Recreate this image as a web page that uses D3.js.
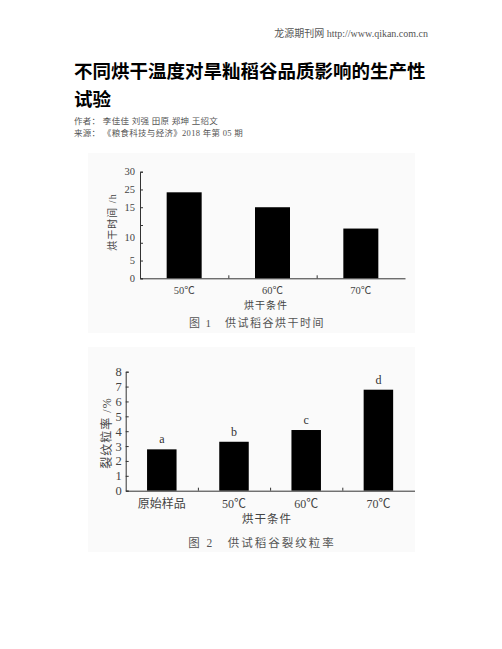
<!DOCTYPE html>
<html>
<head>
<meta charset="utf-8">
<script src="https://cdn.jsdelivr.net/npm/d3@7"></script>
<style>
  body { margin: 0; background: #fff; }
  text { font-family: "Liberation Serif", "Noto Sans CJK SC", serif; }
</style>
</head>
<body>
<div id="page"></div>
<script>
// Figure 1: drying time
var cats1 = ["50℃", "60℃", "70℃"];
var hours1 = [24.2, 20.0, 14.0];
var yTicks1 = [0, 5, 10, 15, 20, 25, 30];
// labels as printed in the source figure
var yLabelText1 = ["0", "5", "10", "15", "25", "30"];
var yLabelAt1 = [0, 5, 11.5, 20, 25, 30];

// Figure 2: crack rate
var cats2 = ["原始样品", "50℃", "60℃", "70℃"];
var crack2 = [2.78, 3.29, 4.08, 6.79];
var letters2 = ["a", "b", "c", "d"];
var yTicks2 = [0, 1, 2, 3, 4, 5, 6, 7, 8];

var W = 502, H = 649;
var svg = d3.select("#page").append("svg")
  .attr("width", W).attr("height", H);

// header
svg.append("text")
  .attr("x", 428).attr("y", 37)
  .attr("text-anchor", "end")
  .style("font-size", "10px").style("fill", "#555")
  .text("龙源期刊网 http://www.qikan.com.cn");

var title = svg.append("g").style("font-weight", "bold").style("fill", "#000");
title.append("text").attr("x", 74).attr("y", 78)
  .style("font-size", "18.5px").style("font-family", "Noto Sans CJK SC")
  .text("不同烘干温度对旱籼稻谷品质影响的生产性");
title.append("text").attr("x", 74).attr("y", 106)
  .style("font-size", "18.5px").style("font-family", "Noto Sans CJK SC")
  .text("试验");

svg.append("text").attr("x", 74).attr("y", 124)
  .style("font-size", "8.5px").style("fill", "#555").style("letter-spacing", "0.3px")
  .text("作者： 李佳佳 刘强 田原 郑坤 王绍文");
svg.append("text").attr("x", 74).attr("y", 136)
  .style("font-size", "8.5px").style("fill", "#555").style("letter-spacing", "0.3px")
  .text("来源： 《粮食科技与经济》2018 年第 05 期");

// faint figure backgrounds
svg.append("rect").attr("x", 88).attr("y", 153).attr("width", 327).attr("height", 180)
  .style("fill", "#fafafa");
svg.append("rect").attr("x", 88).attr("y", 347).attr("width", 327).attr("height", 205)
  .style("fill", "#fafafa");

//---------- Figure 1 ----------
var g1 = svg.append("g");
var x1 = d3.scaleBand().domain(cats1).range([140, 405]);
var y1 = d3.scaleLinear().domain([0, 30]).range([278.3, 171.7]);
var bw1 = 35;

g1.selectAll(".bar1")
  .data(hours1)
  .enter().append("rect")
    .attr("class", "bar1")
    .attr("x", function(d, i) { return x1(cats1[i]) + x1.bandwidth() / 2 - bw1 / 2; })
    .attr("y", function(d) { return y1(d); })
    .attr("width", bw1)
    .attr("height", function(d) { return y1(0) - y1(d); })
    .style("fill", "#000");

// y axis, ticks inward
var ya1 = g1.append("g").attr("transform", "translate(140,0)")
  .call(d3.axisLeft(y1).tickValues(yTicks1).tickSize(-3).tickFormat(""));
ya1.select(".domain").attr("stroke", "#333");
ya1.selectAll(".tick line").attr("stroke", "#333");

g1.selectAll(".ylab1")
  .data(yLabelText1)
  .enter().append("text")
    .attr("class", "ylab1")
    .attr("x", 135)
    .attr("y", function(d, i) { return y1(yLabelAt1[i]); })
    .attr("dy", "0.35em")
    .attr("text-anchor", "end")
    .style("font-size", "10.5px").style("fill", "#444")
    .text(function(d) { return d; });

// x axis
var xl1 = d3.scaleLinear().domain([0, cats1.length]).range(x1.range());
var xa1 = g1.append("g").attr("transform", "translate(0," + y1(0) + ")")
  .call(d3.axisBottom(xl1).tickValues([1, 2]).tickSize(-3).tickFormat("").tickSizeOuter(0));
xa1.select(".domain").attr("stroke", "#333");
xa1.selectAll(".tick line").attr("stroke", "#333");

g1.selectAll(".xlab1")
  .data(cats1)
  .enter().append("text")
    .attr("class", "xlab1")
    .attr("x", function(d) { return x1(d) + x1.bandwidth() / 2; })
    .attr("y", 294)
    .attr("text-anchor", "middle")
    .style("font-size", "10.5px").style("fill", "#444")
    .text(function(d) { return d; });

g1.append("text").attr("x", 266).attr("y", 309)
  .attr("text-anchor", "middle")
  .style("font-size", "10px").style("fill", "#444").style("letter-spacing", "1px")
  .text("烘干条件");

g1.append("text")
  .attr("transform", "translate(116,222) rotate(-90)")
  .attr("text-anchor", "middle")
  .style("font-size", "10px").style("fill", "#444").style("letter-spacing", "1px")
  .text("烘干时间 /h");

g1.append("text").attr("x", 257).attr("y", 327)
  .attr("text-anchor", "middle")
  .style("font-size", "11px").style("fill", "#555").style("letter-spacing", "1.5px")
  .text("图 1　供试稻谷烘干时间");

//---------- Figure 2 ----------
var g2 = svg.append("g");
var x2 = d3.scaleBand().domain(cats2).range([125.7, 414.5]);
var y2 = d3.scaleLinear().domain([0, 8]).range([490.7, 371.7]);
var bw2 = 29.5;

g2.selectAll(".bar2")
  .data(crack2)
  .enter().append("rect")
    .attr("class", "bar2")
    .attr("x", function(d, i) { return x2(cats2[i]) + x2.bandwidth() / 2 - bw2 / 2; })
    .attr("y", function(d) { return y2(d); })
    .attr("width", bw2)
    .attr("height", function(d) { return y2(0) - y2(d); })
    .style("fill", "#000");

g2.selectAll(".letter2")
  .data(letters2)
  .enter().append("text")
    .attr("class", "letter2")
    .attr("x", function(d, i) { return x2(cats2[i]) + x2.bandwidth() / 2; })
    .attr("y", function(d, i) { return y2(crack2[i]) - 6; })
    .attr("text-anchor", "middle")
    .style("font-size", "12px").style("fill", "#333")
    .text(function(d) { return d; });

var ya2 = g2.append("g").attr("transform", "translate(125.7,0)")
  .call(d3.axisLeft(y2).tickValues(yTicks2).tickSize(-3).tickPadding(4));
ya2.select(".domain").attr("stroke", "#333");
ya2.selectAll(".tick line").attr("stroke", "#333");
ya2.selectAll(".tick text")
  .style("font-family", "Liberation Serif").style("font-size", "12.5px").style("fill", "#444");

var xl2 = d3.scaleLinear().domain([0, cats2.length]).range(x2.range());
var xa2 = g2.append("g").attr("transform", "translate(0," + y2(0) + ")")
  .call(d3.axisBottom(xl2).tickValues([1, 2, 3]).tickSize(-3).tickFormat("").tickSizeOuter(0));
xa2.select(".domain").attr("stroke", "#333");
xa2.selectAll(".tick line").attr("stroke", "#333");

g2.selectAll(".xlab2")
  .data(cats2)
  .enter().append("text")
    .attr("class", "xlab2")
    .attr("x", function(d) { return x2(d) + x2.bandwidth() / 2; })
    .attr("y", 508)
    .attr("text-anchor", "middle")
    .style("font-size", "12px").style("fill", "#444")
    .text(function(d) { return d; });

g2.append("text").attr("x", 267).attr("y", 523)
  .attr("text-anchor", "middle")
  .style("font-size", "11.5px").style("fill", "#444").style("letter-spacing", "1px")
  .text("烘干条件");

g2.append("text")
  .attr("transform", "translate(111,433) rotate(-90)")
  .attr("text-anchor", "middle")
  .style("font-size", "12px").style("fill", "#444").style("letter-spacing", "1px")
  .text("裂纹粒率 /%");

g2.append("text").attr("x", 262).attr("y", 547)
  .attr("text-anchor", "middle")
  .style("font-size", "11.5px").style("fill", "#555").style("letter-spacing", "2px")
  .text("图 2　供试稻谷裂纹粒率");
</script>
</body>
</html>
